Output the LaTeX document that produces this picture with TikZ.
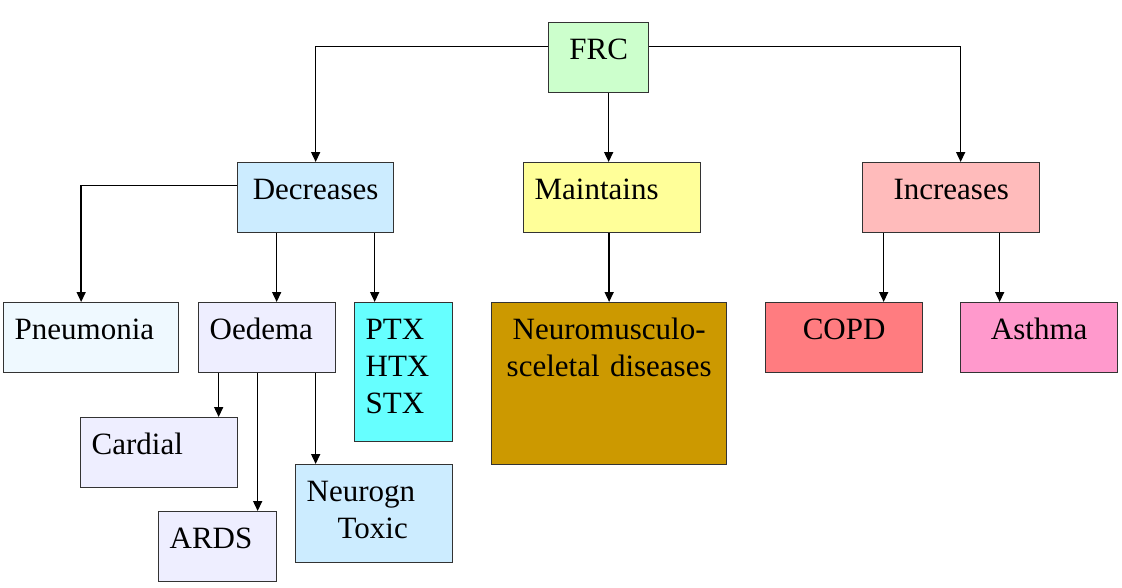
\documentclass[tikz,border=0pt]{standalone}
\usepackage{fontspec}
\setmainfont{Liberation Serif}
\usepackage{tikz}
\usetikzlibrary{arrows.meta}

\definecolor{frcgreen}{HTML}{CCFFCC}
\definecolor{declight}{HTML}{CCECFF}
\definecolor{maiyellow}{HTML}{FFFF99}
\definecolor{incrose}{HTML}{FFBBBB}
\definecolor{pneblue}{HTML}{EFF9FF}
\definecolor{oedlav}{HTML}{EEEEFF}
\definecolor{ptxcyan}{HTML}{66FFFF}
\definecolor{neugold}{HTML}{CC9900}
\definecolor{copdred}{HTML}{FF7C80}
\definecolor{astpink}{HTML}{FF99CC}
\definecolor{boxline}{HTML}{333333}

\begin{document}
\begin{tikzpicture}[
    x=1pt, y=-1pt,
    box/.style={rectangle,draw=boxline,line width=1.3pt,anchor=north west,align=left,
        inner xsep=11pt,inner ysep=14.5pt,text height=22pt,text depth=19pt,
        font=\fontsize{31pt}{37pt}\selectfont},
    arrow/.style={-{Triangle[length=10pt,width=9pt]}, line width=1.5pt}
]
\useasboundingbox (0,0) rectangle (1122,587);

\node[box, fill=frcgreen, text width=78pt, align=center] (frc) at (548,22) {FRC};
\node[box, fill=declight, text width=134pt, align=center] (dec) at (237,162) {Decreases};
\node[box, fill=maiyellow, text width=155pt] (mai) at (523,162) {Maintains};
\node[box, fill=incrose, text width=155pt, align=center] (inc) at (862,162) {Increases};

\node[box, fill=pneblue, text width=153pt] (pne) at (3,302) {Pneumonia};
\node[box, fill=oedlav, text width=115pt] (oed) at (198,302) {Oedema};
\node[box, fill=ptxcyan, text width=76pt, text depth=88pt] (ptx) at (354,302) {PTX\\HTX\\STX};
\node[box, fill=neugold, text width=213pt, align=center, text depth=111pt] (neu) at (491,302) {Neuromusculo-\\sceletal diseases};
\node[box, fill=copdred, text width=135pt, align=center] (cop) at (765,302) {COPD};
\node[box, fill=astpink, text width=135pt, align=center] (ast) at (960,302) {Asthma};

\node[box, fill=oedlav, text width=135pt] (car) at (80,417) {Cardial};
\node[box, fill=oedlav, text width=96pt] (ard) at (158,511) {ARDS};
\node[box, fill=declight, text width=135pt, text depth=47pt] (nrg) at (295,464) {Neurogn\\\hspace*{31pt}Toxic};

\coordinate (frcm) at ([xshift=10pt]frc.south);

\draw[arrow] ([yshift=11pt]frc.west) -| (dec.north);
\draw[arrow] ([yshift=11pt]frc.east) -| ([xshift=9.5pt]inc.north);
\draw[arrow] (frcm) -- (frcm |- mai.north);
\draw[arrow] (neu.north |- mai.south) -- (neu.north);

\draw[arrow] ([yshift=12pt]dec.west) -| ([xshift=-10pt]pne.north);
\draw[arrow] ([xshift=9.5pt]oed.north |- dec.south) -- ([xshift=9.5pt]oed.north);
\draw[arrow] ([xshift=-29pt]ptx.north |- dec.south) -- ([xshift=-29pt]ptx.north);

\draw[arrow] ([xshift=59.5pt]car.north |- oed.south) -- ([xshift=59.5pt]car.north);
\draw[arrow] ([xshift=40pt]ard.north |- oed.south) -- ([xshift=40pt]ard.north);
\draw[arrow] ([xshift=-58.5pt]nrg.north |- oed.south) -- ([xshift=-58.5pt]nrg.north);

\draw[arrow] ([xshift=39.5pt]cop.north |- inc.south) -- ([xshift=39.5pt]cop.north);
\draw[arrow] ([xshift=-39.5pt]ast.north |- inc.south) -- ([xshift=-39.5pt]ast.north);

\end{tikzpicture}
\end{document}
